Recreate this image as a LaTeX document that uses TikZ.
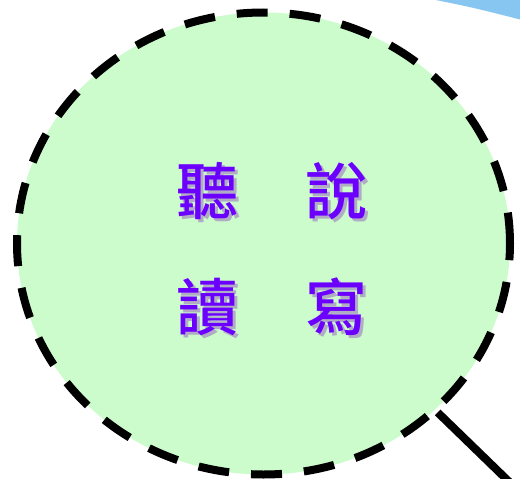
\documentclass[tikz,border=0pt]{standalone}
\usepackage{fontspec}
\newfontfamily\cjk{Noto Sans CJK TC}[UprightFont=* Medium]
\usetikzlibrary{positioning, shapes.geometric}

\definecolor{bubblegreen}{RGB}{204,252,204}
\definecolor{cloudblue}{RGB}{135,198,240}
\definecolor{wordpurple}{RGB}{108,0,255}
\definecolor{shadowgray}{RGB}{176,172,196}

\newcommand{\shadowword}[1]{\rlap{\hspace{3pt}\raisebox{-3.5pt}{\color{shadowgray}#1}}#1}

\begin{document}
\begin{tikzpicture} [
    x=1pt, y=1pt,
    bubble/.style={draw, shape=ellipse, fill=bubblegreen, line width=8pt,
      dash pattern=on 31pt off 22pt, minimum width=493pt, minimum height=462pt, inner sep=0pt},
    word/.style={text=wordpurple, minimum size=64pt, inner sep=0pt,
      font=\cjk\fontsize{62}{62}\selectfont},
    tail edge/.style={draw, line width=8pt}
  ]

  % Frame
  \path[use as bounding box, clip] (0,0) rectangle (520,-479);

  % Blue shape at the top right
  \fill[cloudblue] (431,1) .. controls (475,-8) .. (526,-21) -- (526,1) -- cycle;

  % Bubble and tail
  \coordinate (tail) at (530,-502);
  \node (BUBBLE) [bubble] at (263.5,-243.5) {};
  \path (BUBBLE) edge[tail edge] (tail);

  % Words
  \node (TING) [word] at (207,-192.5) {\shadowword{聽}};
  \node (SHUO) [word, right=65pt of TING] {\shadowword{說}};
  \node (DU) [word, below=51.5pt of TING] {\shadowword{讀}};
  \node (XIE) [word, below=51.5pt of SHUO] {\shadowword{寫}};

\end{tikzpicture}
\end{document}
